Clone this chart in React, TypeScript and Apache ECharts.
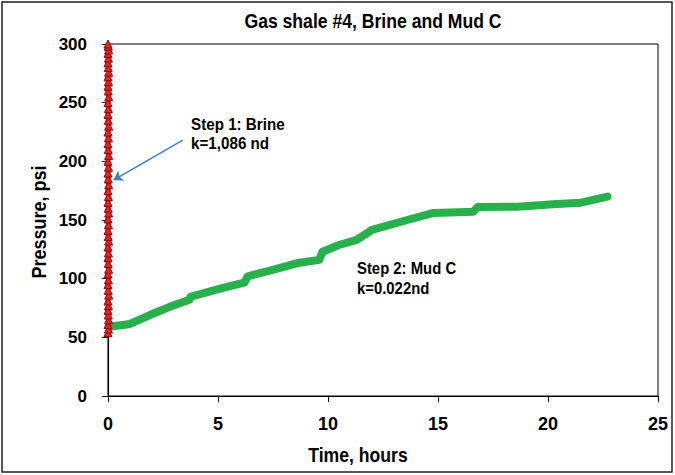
import React, { useEffect, useRef } from "react";
import * as echarts from "echarts";

const brineTime = [0.0, 0.02, 0.0, 0.03, 0.01, 0.0, 0.02, 0.0, 0.03, 0.01, 0.0, 0.02, 0.0, 0.03, 0.01, 0.0, 0.02, 0.0, 0.03, 0.01, 0.0, 0.02, 0.0, 0.03, 0.01, 0.0, 0.02, 0.0, 0.03, 0.01, 0.0, 0.02, 0.0, 0.03, 0.01, 0.0, 0.02, 0.0, 0.03, 0.01, 0.0, 0.02, 0.0, 0.03, 0.01, 0.0, 0.02, 0.0, 0.03, 0.01, 0.0, 0.02, 0.0, 0.03, 0.01, 0.0];
const brinePressure = [54, 57, 61, 65, 69, 73, 77, 81, 86, 90, 95, 99, 104, 108, 113, 118, 122, 127, 132, 136, 141, 146, 151, 156, 160, 165, 170, 175, 180, 185, 190, 195, 200, 205, 210, 215, 220, 225, 230, 235, 240, 245, 250, 255, 260, 264, 268, 272, 276, 280, 284, 288, 292, 295, 298, 300];

const mudTime = [0.1, 0.23, 1.0, 1.9, 2.8, 3.7, 3.75, 4.6, 5.4, 6.2, 6.35, 7.4, 8.7, 9.6, 9.75, 10.5, 11.3, 12.0, 13.6, 14.8, 16.6, 16.8, 18.6, 20.4, 21.5, 22.0, 22.7];
const mudPressure = [59, 59.4, 61.4, 69, 76, 82, 84.6, 89, 93, 96.6, 102, 107, 113.6, 116, 123, 128.7, 133, 141.5, 150, 156, 157, 161, 161.3, 163.6, 164.8, 167, 170];

const xTicks = { min: 0, max: 25, interval: 5 };
const yTicks = { min: 0, max: 300, interval: 50 };

const FONT = "'Liberation Sans', Arial, sans-serif";

export default function App() {
  const ref = useRef<HTMLDivElement>(null);
  useEffect(() => {
    if (!ref.current) return;
    const chart = echarts.init(ref.current, undefined, { renderer: "svg" });
    const brine = brineTime.map((t, i) => [t, brinePressure[i]]);
    const mud = mudTime.map((t, i) => [t, mudPressure[i]]);
    const txt = (text: string, x: number, y: number, size: number, sx: number, align = "left", rotation = 0) => ({
      type: "text",
      x,
      y,
      rotation,
      scaleX: sx,
      silent: true,
      style: { text, fill: "#000", font: `bold ${size}px ${FONT}`, align, verticalAlign: "middle" },
    });
    chart.setOption({
      animation: false,
      backgroundColor: "#ffffff",
      grid: {
        left: 108,
        right: 17,
        top: 44,
        bottom: 79,
        show: true,
        borderColor: "#000",
        borderWidth: 1,
        backgroundColor: "transparent",
      },
      xAxis: {
        type: "value",
        min: xTicks.min,
        max: xTicks.max,
        interval: xTicks.interval,
        axisLine: { onZero: false, lineStyle: { color: "#000", width: 1.2 } },
        axisTick: { show: true, inside: false, length: 6, lineStyle: { color: "#000" } },
        splitLine: { show: false },
        axisLabel: { color: "#000", fontFamily: FONT, fontWeight: "bold", fontSize: 18, margin: 19 },
      },
      yAxis: {
        type: "value",
        min: yTicks.min,
        max: yTicks.max,
        interval: yTicks.interval,
        axisLine: { show: true, onZero: false, lineStyle: { color: "#000", width: 1.2 } },
        axisTick: { show: true, inside: false, length: 6, lineStyle: { color: "#000" } },
        splitLine: { show: false },
        axisLabel: { color: "#000", fontFamily: FONT, fontWeight: "bold", fontSize: 17, margin: 21 },
      },
      series: [
        {
          name: "Mud C",
          type: "line",
          data: mud,
          showSymbol: false,
          symbol: "none",
          lineStyle: { color: "#27b04b", width: 8, cap: "round", join: "round" },
          z: 2,
        },
        {
          name: "Brine",
          type: "line",
          data: brine,
          symbol: "triangle",
          symbolSize: 8,
          itemStyle: { color: "#d42a2a", borderColor: "#a00000", borderWidth: 1 },
          lineStyle: { color: "#c00000", width: 5 },
          z: 3,
          markLine: {
            silent: true,
            symbol: ["none", "arrow"],
            symbolSize: 9,
            label: { show: false },
            lineStyle: { color: "#3a80c4", width: 1.5, type: "solid" },
            data: [[{ coord: [3.4, 218] }, { coord: [0.25, 184] }]],
          },
        },
      ],
      graphic: [
        {
          type: "rect",
          shape: { x: 2, y: 2, width: 670, height: 470 },
          style: { fill: "none", stroke: "#222", lineWidth: 1.5 },
          silent: true,
        },
        txt("Gas shale #4, Brine and Mud C", 373, 21, 20, 0.88, "center"),
        txt("Time, hours", 358, 455, 20, 0.88, "center"),
        txt("Pressure, psi", 39, 222, 20, 0.9, "center", Math.PI / 2),
        txt("Step 1: Brine", 191, 124, 16, 0.95),
        txt("k=1,086 nd", 191, 143, 16, 0.95),
        txt("Step 2: Mud C", 357, 268, 16, 0.93),
        txt("k=0.022nd", 357, 288, 16, 0.93),
      ],
    });
    return () => chart.dispose();
  }, []);
  return <div ref={ref} style={{ position: "absolute", left: 0, top: 0, width: 675, height: 475 }} />;
}
